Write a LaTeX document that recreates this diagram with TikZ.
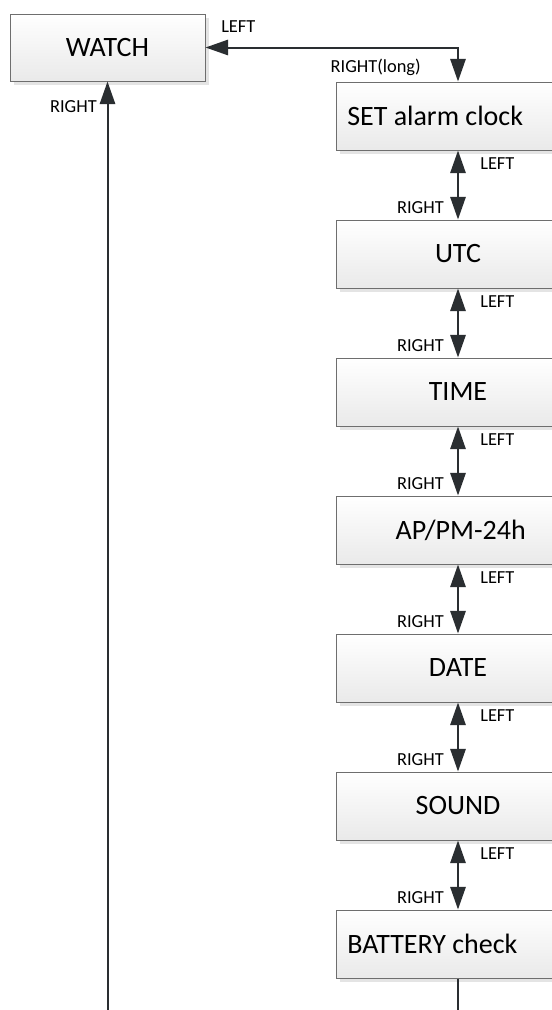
\documentclass[tikz,border=0pt]{standalone}
\usepackage{fontspec}
\setmainfont{Carlito}
\usetikzlibrary{arrows.meta,shadows,calc}
\definecolor{arrc}{HTML}{2A2E31}
\definecolor{boxline}{HTML}{6E6E6E}
\begin{document}
\begin{tikzpicture}[x=0.75pt,y=-0.75pt,
  menubox/.style={draw=boxline, line width=0.75pt, top color=white, bottom color=gray!17,
    minimum width=183pt, minimum height=51pt, inner sep=0pt, font=\fontsize{21}{25}\selectfont,
    drop shadow={shadow xshift=3pt, shadow yshift=-3pt, fill=gray!35, opacity=0.6}},
  boxtext/.style={font=\fontsize{21}{25}\selectfont, inner sep=0pt},
  lbl/.style={font=\fontsize{13.8}{16}\selectfont, inner sep=0pt, text=black},
  conn/.style={draw=arrc, line width=1.5pt},
  dbl/.style={conn, {Triangle[length=17pt,width=11.5pt]}-{Triangle[length=17pt,width=11.5pt]}},
  one/.style={conn, -{Triangle[length=17pt,width=11.5pt]}}
]
\useasboundingbox (0,0) rectangle (552,1010);
\clip (0,0) rectangle (552,1010);
\fill[white] (0,0) rectangle (552,1010);

\node[menubox, minimum width=146.25pt, minimum height=50.25pt] (watch) at (107.5,47.5) {WATCH};
\node[menubox] (b1) at (458,116) {};
\node[boxtext, anchor=west] (t1) at (347,116) {SET alarm clock};
\node[menubox] (b2) at (458,254) {UTC};
\node[menubox] (b3) at (458,392) {TIME};
\node[menubox] (b4) at (458,530) {};
\node[boxtext, anchor=east] (t4) at (526,530) {AP/PM-24h};
\node[menubox] (b5) at (458,668) {DATE};
\node[menubox] (b6) at (458,806) {SOUND};
\node[menubox] (b7) at (458,944) {};
\node[boxtext, anchor=west] (t7) at (347,944) {BATTERY check};

\draw[dbl] (watch.east) -| (b1.north);
\node[lbl, anchor=west] (lt) at (221,27) {LEFT};
\node[lbl, anchor=east] (rl) at (421,67) {RIGHT(long)};

\foreach \a/\b in {b1/b2,b2/b3,b3/b4,b4/b5,b5/b6,b6/b7}{
  \draw[dbl] (\a.south) -- (\b.north);
  \node[lbl, anchor=west] at ($(\a.south)+(22,13)$) {LEFT};
  \node[lbl, anchor=east] at ($(\b.north)+(-14,-12)$) {RIGHT};
}

\coordinate (e7) at (458,1020);
\coordinate (e0) at (107.5,1020);
\draw[conn] (b7.south) -- (e7);
\draw[one] (e0) -- (watch.south);
\node[lbl, anchor=east] (rw) at (97,107) {RIGHT};
\end{tikzpicture}
\end{document}
